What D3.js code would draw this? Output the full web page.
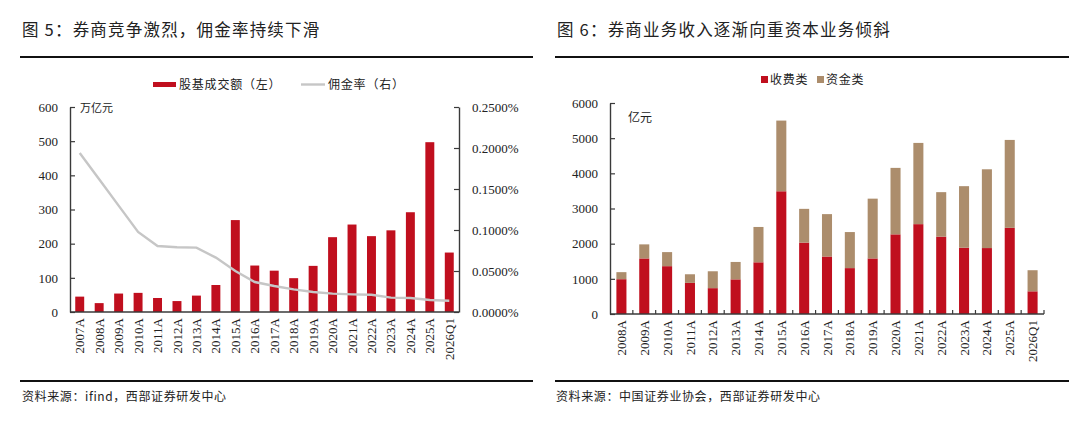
<!DOCTYPE html>
<html>
<head>
<meta charset="utf-8">
<script src="https://cdn.jsdelivr.net/npm/d3@7"></script>
<style>
  body { margin: 0; background: #fff; }
  .num { font-family: "Liberation Serif", "Times New Roman", "DejaVu Serif", serif !important; }
  .cjk { font-family: "Noto Sans CJK SC", sans-serif; }
</style>
</head>
<body>
<svg id="chart" width="1080" height="423"></svg>
<script>
// ---- data, figure 5 ----
var turnoverYears = ["2007A","2008A","2009A","2010A","2011A","2012A","2013A","2014A","2015A","2016A",
                     "2017A","2018A","2019A","2020A","2021A","2022A","2023A","2024A","2025A","2026Q1"];
var turnover = [45, 26, 54, 56, 41, 32, 48, 79, 269, 136, 121, 99, 135, 219, 256, 222, 239, 292, 497, 174]; // 万亿元
var commissionRate = [0.1939, 0.1618, 0.1297, 0.0976, 0.0805, 0.0789, 0.0785, 0.0663, 0.0500, 0.0366,
                      0.0317, 0.0276, 0.0244, 0.0224, 0.0215, 0.0211, 0.0175, 0.0171, 0.0146, 0.0138]; // %
var leftTicks = [0, 100, 200, 300, 400, 500, 600];
var rateTicks = [0, 0.05, 0.10, 0.15, 0.20, 0.25];

// ---- data, figure 6 ----
var incomeYears = ["2008A","2009A","2010A","2011A","2012A","2013A","2014A","2015A","2016A","2017A",
                   "2018A","2019A","2020A","2021A","2022A","2023A","2024A","2025A","2026Q1"];
var feeIncome = [990, 1580, 1360, 885, 735, 985, 1470, 3490, 2030, 1635, 1305, 1580, 2265, 2555, 2200, 1885, 1875, 2450, 645];
var capitalIncome = [200, 400, 400, 245, 480, 495, 1005, 2010, 960, 1205, 1025, 1700, 1890, 2310, 1265, 1750, 2240, 2500, 600];
var incomeTicks = [0, 1000, 2000, 3000, 4000, 5000, 6000];

var RED = "#C00F1E", TAN = "#AC8D6C", GREY = "#C6C6C6", AXIS = "#3a3a3a";
var SERIF = "'Liberation Serif', 'Times New Roman', 'DejaVu Serif', serif";

var svg = d3.select("#chart");

function header(x0, x1, title) {
  svg.append("text").attr("class", "cjk")
    .attr("x", x0 + 2).attr("y", 36)
    .attr("font-size", 16.5).attr("fill", "#222")
    .attr("letter-spacing", 1.2)
    .text(title);
  svg.append("line").attr("x1", x0).attr("x2", x1).attr("y1", 57).attr("y2", 57)
    .attr("stroke", "#111").attr("stroke-width", 2);
  svg.append("line").attr("x1", x0).attr("x2", x1).attr("y1", 381).attr("y2", 381)
    .attr("stroke", "#111").attr("stroke-width", 2);
}

function styleAxis(g) {
  g.attr("font-family", null);
  g.selectAll("path.domain").attr("stroke", AXIS).attr("stroke-width", 1.4);
  g.selectAll(".tick line").attr("stroke", AXIS).attr("stroke-width", 1.2);
  g.selectAll(".tick text").attr("class", "num").attr("fill", "#222")
    .style("font-size", "13px").style("font-family", SERIF);
}

// ================= Figure 5 =================
(function () {
  header(20, 533, "图 5：券商竞争激烈，佣金率持续下滑");

  var left = 70, right = 459, top = 107, bottom = 312;

  var x = d3.scaleBand().domain(turnoverYears).range([left, right]).paddingInner(0.54).paddingOuter(0.27);
  var y = d3.scaleLinear().domain([0, 600]).range([bottom, top]);
  var y2 = d3.scaleLinear().domain([0, 0.25]).range([bottom, top]);

  svg.append("g").selectAll("rect")
    .data(turnover)
    .enter().append("rect")
      .attr("x", function (d, i) { return x(turnoverYears[i]); })
      .attr("y", function (d) { return y(d); })
      .attr("width", x.bandwidth())
      .attr("height", function (d) { return bottom - y(d); })
      .attr("fill", RED);

  var line = d3.line()
    .x(function (d, i) { return x(turnoverYears[i]) + x.bandwidth() / 2; })
    .y(function (d) { return y2(d); });
  svg.append("path").datum(commissionRate)
    .attr("d", line).attr("fill", "none")
    .attr("stroke", GREY).attr("stroke-width", 2.4);

  var ga = svg.append("g").attr("transform", "translate(" + left + ",0)")
    .call(d3.axisLeft(y).tickValues(leftTicks).tickSizeInner(-5).tickSizeOuter(0).tickPadding(12)
      .tickFormat(d3.format("d")));
  styleAxis(ga);

  var gb = svg.append("g").attr("transform", "translate(" + right + ",0)")
    .call(d3.axisRight(y2).tickValues(rateTicks).tickSizeInner(-5).tickSizeOuter(0).tickPadding(13)
      .tickFormat(function (d) { return d.toFixed(4) + "%"; }));
  styleAxis(gb);

  var gx = svg.append("g").attr("transform", "translate(0," + bottom + ")")
    .call(d3.axisBottom(x).tickSize(0).tickPadding(6));
  styleAxis(gx);
  gx.select("path.domain").attr("d", "M" + left + ",0H" + right);
  gx.selectAll(".tick text")
    .attr("transform", "rotate(-90)")
    .attr("text-anchor", "end")
    .attr("x", -6).attr("y", 0).attr("dy", "0.35em");

  svg.append("text").attr("class", "cjk")
    .attr("x", 80).attr("y", 112).attr("font-size", 11).attr("fill", "#222")
    .text("万亿元");

  // legend
  svg.append("rect").attr("x", 153).attr("y", 82).attr("width", 23).attr("height", 5).attr("fill", RED);
  svg.append("text").attr("class", "cjk").attr("x", 179).attr("y", 89)
    .attr("font-size", 12).attr("fill", "#222").attr("letter-spacing", 0.8).text("股基成交额（左）");
  svg.append("line").attr("x1", 301).attr("x2", 325).attr("y1", 84.5).attr("y2", 84.5)
    .attr("stroke", GREY).attr("stroke-width", 2.4);
  svg.append("text").attr("class", "cjk").attr("x", 328).attr("y", 89)
    .attr("font-size", 12).attr("fill", "#222").attr("letter-spacing", 0.8).text("佣金率（右）");

  svg.append("text").attr("class", "cjk").attr("x", 22).attr("y", 401)
    .attr("font-size", 12).attr("fill", "#222").attr("letter-spacing", 0.6)
    .text("资料来源：ifind，西部证券研发中心");
})();

// ================= Figure 6 =================
(function () {
  header(555, 1069, "图 6：券商业务收入逐渐向重资本业务倾斜");

  var left = 610, right = 1044, top = 103, bottom = 314;

  var x = d3.scaleBand().domain(incomeYears).range([left, right]).paddingInner(0.56).paddingOuter(0.28);
  var y = d3.scaleLinear().domain([0, 6000]).range([bottom, top]);

  var bars = svg.append("g");
  bars.selectAll("rect.fee")
    .data(feeIncome)
    .enter().append("rect").attr("class", "fee")
      .attr("x", function (d, i) { return x(incomeYears[i]); })
      .attr("y", function (d) { return y(d); })
      .attr("width", x.bandwidth())
      .attr("height", function (d) { return bottom - y(d); })
      .attr("fill", RED);
  bars.selectAll("rect.cap")
    .data(capitalIncome)
    .enter().append("rect").attr("class", "cap")
      .attr("x", function (d, i) { return x(incomeYears[i]); })
      .attr("y", function (d, i) { return y(feeIncome[i] + d); })
      .attr("width", x.bandwidth())
      .attr("height", function (d, i) { return y(feeIncome[i]) - y(feeIncome[i] + d); })
      .attr("fill", TAN);

  var ga = svg.append("g").attr("transform", "translate(" + left + ",0)")
    .call(d3.axisLeft(y).tickValues(incomeTicks).tickSizeInner(-5).tickSizeOuter(0).tickPadding(12)
      .tickFormat(d3.format("d")));
  styleAxis(ga);

  var gx = svg.append("g").attr("transform", "translate(0," + bottom + ")")
    .call(d3.axisBottom(x).tickSize(0).tickPadding(6));
  styleAxis(gx);
  gx.select("path.domain").attr("d", "M" + left + ",0H" + right);
  gx.selectAll(".tick text")
    .attr("transform", "rotate(-90)")
    .attr("text-anchor", "end")
    .attr("x", -6).attr("y", 0).attr("dy", "0.35em");
  // category boundary ticks, pointing up
  var step = x.step();
  gx.selectAll("line.sep")
    .data(incomeYears)
    .enter().append("line").attr("class", "sep")
      .attr("x1", function (d) { return x(d) - (step - x.bandwidth()) / 2 + step; })
      .attr("x2", function (d) { return x(d) - (step - x.bandwidth()) / 2 + step; })
      .attr("y1", 0).attr("y2", -4)
      .attr("stroke", AXIS).attr("stroke-width", 1.2);

  svg.append("text").attr("class", "cjk")
    .attr("x", 628).attr("y", 122).attr("font-size", 12).attr("fill", "#222")
    .text("亿元");

  // legend
  svg.append("rect").attr("x", 761).attr("y", 76).attr("width", 7).attr("height", 7).attr("fill", RED);
  svg.append("text").attr("class", "cjk").attr("x", 770).attr("y", 84)
    .attr("font-size", 12).attr("fill", "#222").attr("letter-spacing", 0.8).text("收费类");
  svg.append("rect").attr("x", 817).attr("y", 76).attr("width", 7).attr("height", 7).attr("fill", TAN);
  svg.append("text").attr("class", "cjk").attr("x", 826).attr("y", 84)
    .attr("font-size", 12).attr("fill", "#222").attr("letter-spacing", 0.8).text("资金类");

  svg.append("text").attr("class", "cjk").attr("x", 556).attr("y", 401)
    .attr("font-size", 12).attr("fill", "#222").attr("letter-spacing", 0.6)
    .text("资料来源：中国证券业协会，西部证券研发中心");
})();
</script>
</body>
</html>
